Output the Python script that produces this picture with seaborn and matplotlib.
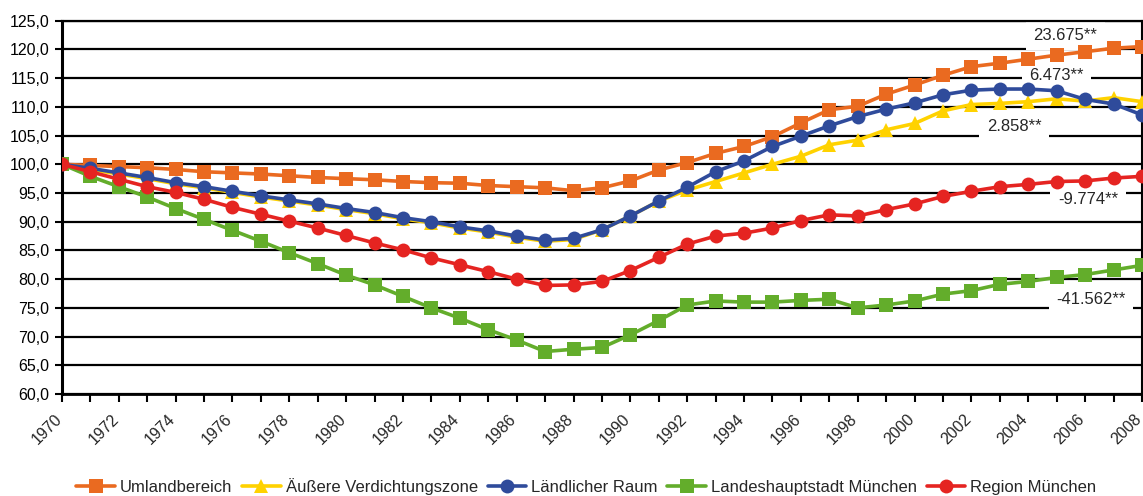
import numpy as np
import matplotlib
matplotlib.use('Agg')
import matplotlib.pyplot as plt
import matplotlib.transforms as mtransforms
import seaborn as sns
import pandas as pd

# Index 1970 = 100
years = list(range(1970, 2009))
year_labels = [str(y) for y in years if y % 2 == 0]

umland = [100.0, 99.8, 99.6, 99.4, 99.1, 98.7, 98.5, 98.3, 98.0, 97.7, 97.5, 97.3, 97.0,
          96.8, 96.7, 96.3, 96.1, 95.9, 95.4, 95.9, 97.1, 99.0, 100.3, 101.9, 103.1, 104.8,
          107.2, 109.5, 110.1, 112.2, 113.8, 115.5, 117.0, 117.6, 118.3, 119.0, 119.6, 120.2, 120.5]
aeussere = [100.0, 99.1, 98.3, 97.5, 96.6, 95.9, 95.1, 94.3, 93.6, 92.9, 92.1, 91.4, 90.5,
            89.8, 88.9, 88.2, 87.3, 86.6, 86.9, 88.6, 91.0, 93.6, 95.5, 97.0, 98.5, 100.0,
            101.4, 103.4, 104.2, 106.0, 107.1, 109.3, 110.4, 110.6, 110.9, 111.4, 111.0, 111.6, 110.9]
laendlich = [100.0, 99.3, 98.5, 97.7, 96.8, 96.1, 95.3, 94.5, 93.8, 93.1, 92.3, 91.6, 90.7,
             90.0, 89.1, 88.4, 87.5, 86.8, 87.1, 88.6, 91.0, 93.6, 96.0, 98.7, 100.6, 103.1,
             104.9, 106.7, 108.3, 109.6, 110.7, 112.1, 112.9, 113.1, 113.1, 112.8, 111.3, 110.5, 108.6]
muenchen = [100.0, 97.9, 96.1, 94.3, 92.3, 90.4, 88.5, 86.6, 84.6, 82.7, 80.7, 79.0, 77.0,
            75.0, 73.2, 71.2, 69.4, 67.4, 67.8, 68.1, 70.3, 72.8, 75.5, 76.2, 76.0, 76.0,
            76.3, 76.5, 75.0, 75.5, 76.2, 77.4, 78.0, 79.1, 79.6, 80.3, 80.8, 81.6, 82.4]
region = [100.0, 98.7, 97.4, 96.1, 95.1, 93.9, 92.5, 91.3, 90.1, 88.9, 87.6, 86.3, 85.1,
          83.7, 82.5, 81.3, 80.0, 78.9, 79.0, 79.6, 81.5, 83.8, 86.1, 87.5, 88.0, 88.9,
          90.2, 91.2, 91.0, 92.1, 93.1, 94.4, 95.3, 96.1, 96.5, 97.0, 97.1, 97.6, 97.9]

series_names = ['Umlandbereich', 'Äußere Verdichtungszone', 'Ländlicher Raum',
                'Landeshauptstadt München', 'Region München']
series_values = [umland, aeussere, laendlich, muenchen, region]
colors = ['#EA6A20', '#FFD200', '#2F4B9B', '#63AD2B', '#E52421']
markers = ['s', '^', 'o', 's', 'o']

# absolute changes written at the right end
notes = ['23.675**', '6.473**', '2.858**', '-9.774**', '-41.562**']
note_pos = [(2005.3, 122.5), (2005.0, 115.4), (2003.5, 106.5), (2006.1, 93.8), (2006.2, 76.4)]

sns.set_theme(style='white')
plt.rcParams['font.family'] = ['Liberation Sans', 'DejaVu Sans']

df = pd.DataFrame({'year': years})
for name, vals in zip(series_names, series_values):
    df[name] = vals

fig = plt.figure(figsize=(11.43, 4.96), dpi=100)
ax = fig.add_axes([0.0542, 0.2056, 0.9449, 0.7527])

for name, color, marker in zip(series_names, colors, markers):
    sns.lineplot(data=df, x='year', y=name, ax=ax, color=color, marker=marker,
                 markersize=10 if marker != 's' else 9.5, markeredgewidth=0,
                 linewidth=2.6, label=name, zorder=3)

for text, (x, y) in zip(notes, note_pos):
    ax.text(x, y, text, ha='center', va='center', fontsize=12, zorder=2.5,
            bbox=dict(boxstyle='square,pad=0.45', facecolor='white', edgecolor='none'))

ax.set_xlim(1970, 2008)
ax.set_ylim(60, 125)
ax.set_xlabel('')
ax.set_ylabel('')

ax.set_yticks(np.arange(60, 126, 5))
ax.set_yticklabels([f'{v:.1f}'.replace('.', ',') for v in np.arange(60, 126, 5)], fontsize=11.5)
ax.set_xticks(years)
ax.set_xticklabels([])

# rotated year labels, placed a little left of their tick as in the original
label_trans = ax.get_xaxis_transform() + mtransforms.ScaledTranslation(-0.08, -0.175, fig.dpi_scale_trans)
for lbl in year_labels:
    ax.text(int(lbl), 0, lbl, transform=label_trans, rotation=45, ha='right', va='top',
            rotation_mode='anchor', fontsize=11.5, clip_on=False)

ax.tick_params(axis='y', left=True, length=5, width=1.5, pad=4, colors='black')
ax.tick_params(axis='x', bottom=True, length=6, width=1.5, colors='black')

ax.yaxis.grid(True, color='black', linewidth=1.6)
ax.xaxis.grid(False)
ax.set_axisbelow(True)

for side in ['left', 'bottom', 'right', 'top']:
    ax.spines[side].set_visible(True)
    ax.spines[side].set_color('black')
ax.spines['left'].set_linewidth(2.2)
ax.spines['bottom'].set_linewidth(2.0)
ax.spines['right'].set_linewidth(1.5)
ax.spines['top'].set_linewidth(1.6)

handles, labels = ax.get_legend_handles_labels()
ax.get_legend().remove()
fig.legend(handles, labels, loc='center', bbox_to_anchor=(0.513, 0.02), ncol=5,
           frameon=False, fontsize=12, handlelength=2.3, handletextpad=0.3,
           columnspacing=0.6, borderaxespad=0)

fig.savefig('out.png', dpi=100)
